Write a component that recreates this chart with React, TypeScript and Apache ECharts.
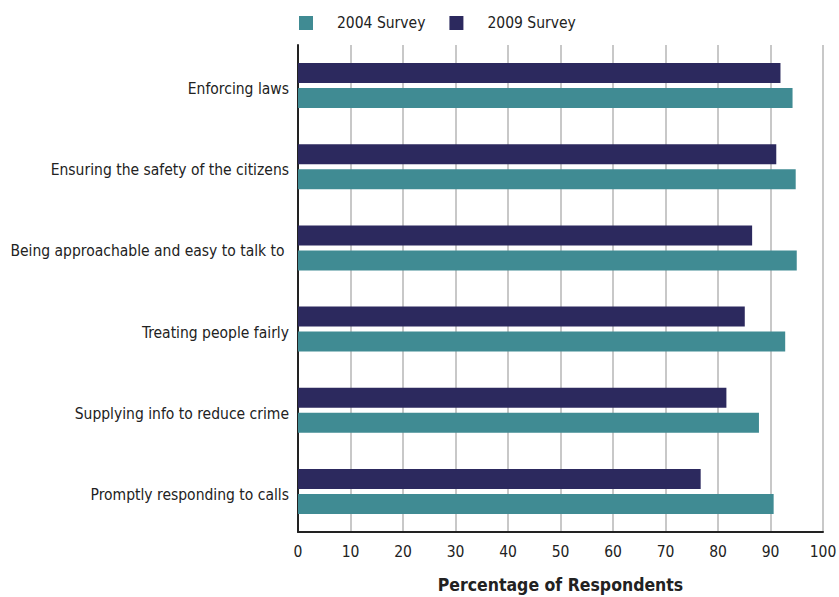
import React, { useEffect, useRef } from "react";
import * as echarts from "echarts";

const categories = [
  "Enforcing laws",
  "Ensuring the safety of the citizens",
  "Being approachable and easy to talk to ",
  "Treating people fairly",
  "Supplying info to reduce crime",
  "Promptly responding to calls",
];
const survey2004 = [94.2, 94.8, 95.0, 92.8, 87.8, 90.6];
const survey2009 = [91.9, 91.1, 86.5, 85.1, 81.6, 76.7];
const xTicks = [0, 10, 20, 30, 40, 50, 60, 70, 80, 90, 100];

const FONT = "'Liberation Sans Narrow', 'DejaVu Sans Condensed', 'Liberation Sans', sans-serif";

export default function App() {
  const ref = useRef<HTMLDivElement>(null);
  useEffect(() => {
    if (!ref.current) return;
    const chart = echarts.init(ref.current, null, { renderer: "svg" });
    chart.setOption({
      animation: false,
      backgroundColor: "#ffffff",
      textStyle: { fontFamily: FONT },
      legend: {
        top: 15,
        left: 299,
        padding: 0,
        itemWidth: 14,
        itemHeight: 14,
        itemGap: 24,
        icon: "rect",
        textStyle: { fontSize: 15.5, color: "#222", fontFamily: FONT, padding: [0, 0, 0, 19] },
        data: ["2004 Survey", "2009 Survey"],
      },
      grid: { left: 298, right: 16, top: 45, bottom: 65, containLabel: false, outerBoundsMode: "none" },
      xAxis: {
        type: "value",
        min: xTicks[0],
        max: xTicks[xTicks.length - 1],
        interval: 10,
        name: "Percentage of Respondents",
        nameLocation: "middle",
        nameGap: 44,
        nameTextStyle: { fontSize: 17.5, fontWeight: "bold", color: "#222", fontFamily: FONT },
        axisLine: { show: true, lineStyle: { color: "#222", width: 2 } },
        axisTick: { show: false },
        axisLabel: { fontSize: 15.5, color: "#222", margin: 12, fontFamily: FONT },
        splitLine: { show: true, lineStyle: { color: "#c8c8c8", width: 2 } },
      },
      yAxis: {
        type: "category",
        data: categories,
        inverse: true,
        axisLine: { show: true, lineStyle: { color: "#222", width: 2 } },
        axisTick: { show: false },
        axisLabel: {
          fontSize: 15.5,
          color: "#222",
          margin: 9,
          fontFamily: FONT,
          verticalAlign: "top",
          lineHeight: 7,
        },
        splitLine: { show: false },
      },
      series: [
        {
          name: "2009 Survey",
          type: "bar",
          data: survey2009,
          barWidth: 20,
          barGap: "25%",
          itemStyle: { color: "#2c295e" },
        },
        {
          name: "2004 Survey",
          type: "bar",
          data: survey2004,
          barWidth: 20,
          barGap: "25%",
          itemStyle: { color: "#408b93" },
        },
      ],
    });
    return () => chart.dispose();
  }, []);
  return (
    <div
      ref={ref}
      style={{ position: "fixed", left: 0, top: 0, width: 839, height: 597 }}
    />
  );
}
